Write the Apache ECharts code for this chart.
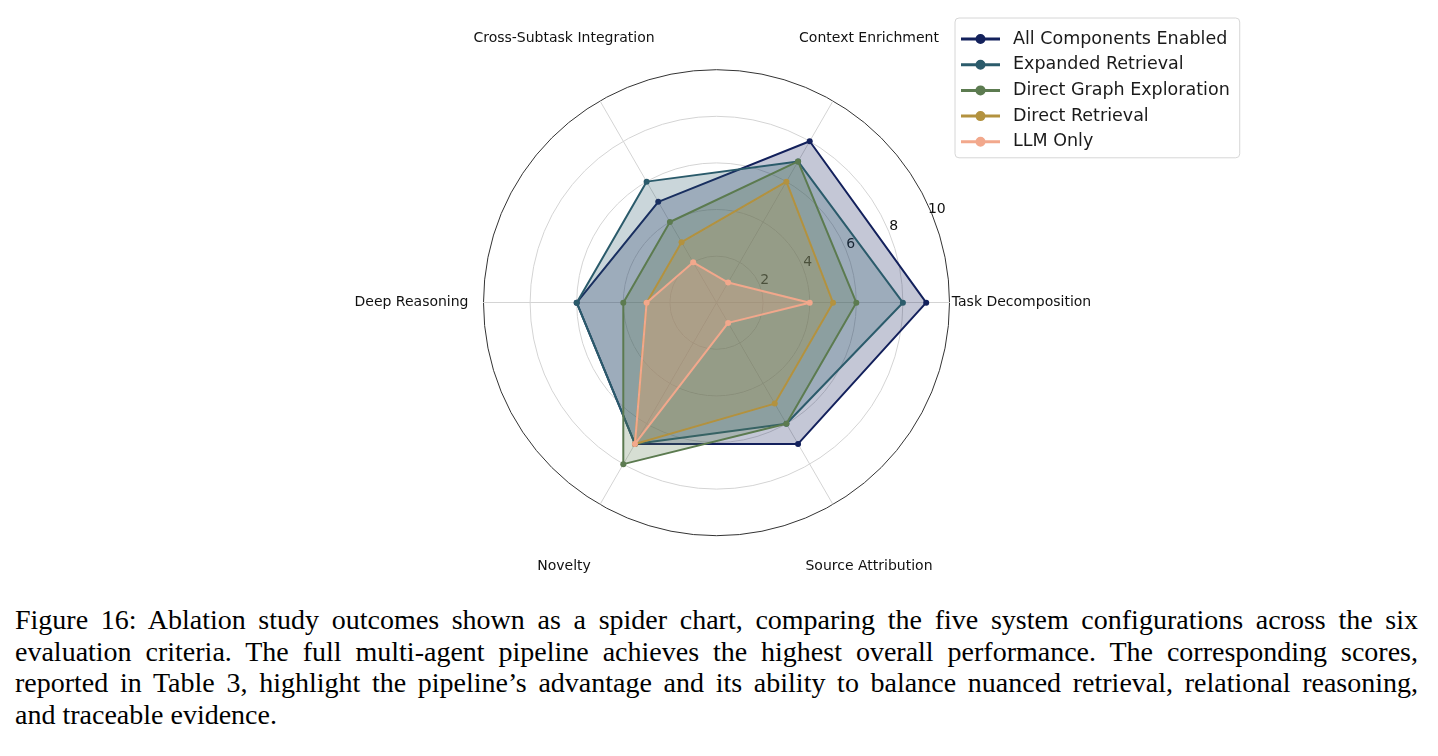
<!DOCTYPE html>
<html>
<head>
<meta charset="utf-8">
<script src="https://cdn.jsdelivr.net/npm/echarts@6/dist/echarts.min.js"></script>
<style>
  html, body { margin: 0; padding: 0; background: #fff; }
  #chart { position: absolute; left: 0; top: 0; width: 1438px; height: 590px; }
  #caption {
    position: absolute; left: 15px; top: 604px; width: 1403px;
    font-family: 'Liberation Serif', 'Times New Roman', serif;
    font-size: 28px; line-height: 31.7px; color: #000;
  }
  #caption div { white-space: nowrap; text-align: justify; text-align-last: justify; }
  #caption div.last { text-align-last: left; }
</style>
</head>
<body>
<div id="chart"></div>
<div id="caption">
  <div>Figure 16: Ablation study outcomes shown as a spider chart, comparing the five system configurations across the six</div>
  <div>evaluation criteria. The full multi-agent pipeline achieves the highest overall performance. The corresponding scores,</div>
  <div>reported in Table 3, highlight the pipeline’s advantage and its ability to balance nuanced retrieval, relational reasoning,</div>
  <div class="last">and traceable evidence.</div>
</div>
<script>
// 评价维度（从右侧开始逆时针）
var criteria = ['Task Decomposition', 'Context Enrichment', 'Cross-Subtask Integration', 'Deep Reasoning', 'Novelty', 'Source Attribution']
var radialTicks = [0, 2, 4, 6, 8, 10]
var configNames = ['All Components Enabled', 'Expanded Retrieval', 'Direct Graph Exploration', 'Direct Retrieval', 'LLM Only']
var allComponents = [9, 8, 5, 6, 7, 7]
var expandedRetrieval = [8, 7, 6, 6, 7, 6]
var directGraph = [6, 7, 4, 4, 8, 6]
var directRetrieval = [5, 6, 3, 3, 7, 5]
var llmOnly = [4, 1, 2, 3, 7, 1]
var colors = ['#13215c', '#2b5b6b', '#5c7b50', '#b3923f', '#f2a88c']

var seriesValues = [allComponents, expandedRetrieval, directGraph, directRetrieval, llmOnly]
var center = [716.5, 302.7]
var radius = 233
var labelRadius = 305
var rMax = radialTicks[radialTicks.length - 1]

var myChart = echarts.init(document.getElementById('chart'))

var series = configNames.map(function (name, i) {
  return {
    name: name,
    type: 'radar',
    symbol: 'circle',
    symbolSize: 6,
    z: 2 + i,
    lineStyle: { width: 2, color: colors[i] },
    itemStyle: { color: colors[i] },
    areaStyle: { color: colors[i], opacity: 0.25 },
    data: [{ value: seriesValues[i], name: name }]
  }
})

// 维度名称：放在外圈，居中对齐
series.push({
  name: 'criteria',
  type: 'scatter',
  coordinateSystem: 'polar',
  polarIndex: 1,
  symbolSize: 0,
  silent: true,
  clip: false,
  label: {
    show: true,
    position: 'inside',
    formatter: '{b}',
    fontSize: 14,
    color: '#111111',
    opacity: 1
  },
  data: criteria.map(function (c) { return { name: c, value: [1, c] } })
})

var option = {
  animation: false,
  textStyle: { fontFamily: 'DejaVu Sans' },
  color: colors,
  legend: {
    orient: 'vertical',
    left: 955,
    top: 18,
    padding: [11, 10, 6, 6],
    itemGap: 5.7,
    itemWidth: 39,
    itemHeight: 10,
    icon: 'path://M0,3.5 L39,3.5 L39,6.5 L0,6.5 Z M14.5,5 A5,5 0 1,1 24.5,5 A5,5 0 1,1 14.5,5 Z',
    borderColor: '#d6d6d6',
    borderWidth: 1,
    borderRadius: 4,
    itemStyle: { borderWidth: 0 },
    textStyle: { fontSize: 17.5, color: '#1a1a1a', lineHeight: 20, padding: [0, 0, 0, 8] },
    data: configNames
  },
  radar: {
    center: center,
    radius: radius,
    startAngle: 0,
    shape: 'circle',
    splitNumber: radialTicks.length - 1,
    indicator: criteria.map(function (c) { return { name: c, min: 0, max: rMax } }),
    axisName: { show: false },
    axisLine: { lineStyle: { color: '#d4d4d4', width: 1 } },
    splitLine: {
      lineStyle: {
        color: ['#d4d4d4', '#d4d4d4', '#d4d4d4', '#d4d4d4', '#d4d4d4', '#333333'],
        width: 1
      }
    },
    splitArea: { show: false }
  },
  polar: [
    { center: center, radius: radius },
    { center: center, radius: labelRadius }
  ],
  angleAxis: [
    {
      polarIndex: 0,
      type: 'value',
      min: 0,
      max: 360,
      startAngle: 22.5,
      show: false
    },
    {
      polarIndex: 1,
      type: 'category',
      data: criteria,
      startAngle: 0,
      clockwise: false,
      boundaryGap: false,
      show: false
    }
  ],
  radiusAxis: [
    {
      polarIndex: 0,
      type: 'value',
      min: 0,
      max: rMax,
      interval: 2,
      axisLine: { show: false },
      axisTick: { show: false },
      splitLine: { show: false },
      axisLabel: {
        show: true,
        margin: 5,
        align: 'center',
        verticalAlign: 'middle',
        padding: [0, 0, 6, 14],
        fontSize: 14,
        color: '#111111',
        formatter: function (v) { return v === 0 ? '' : String(v) }
      }
    },
    {
      polarIndex: 1,
      type: 'value',
      min: 0,
      max: 1,
      show: false
    }
  ],
  series: series
}

myChart.setOption(option)
</script>
</body>
</html>
